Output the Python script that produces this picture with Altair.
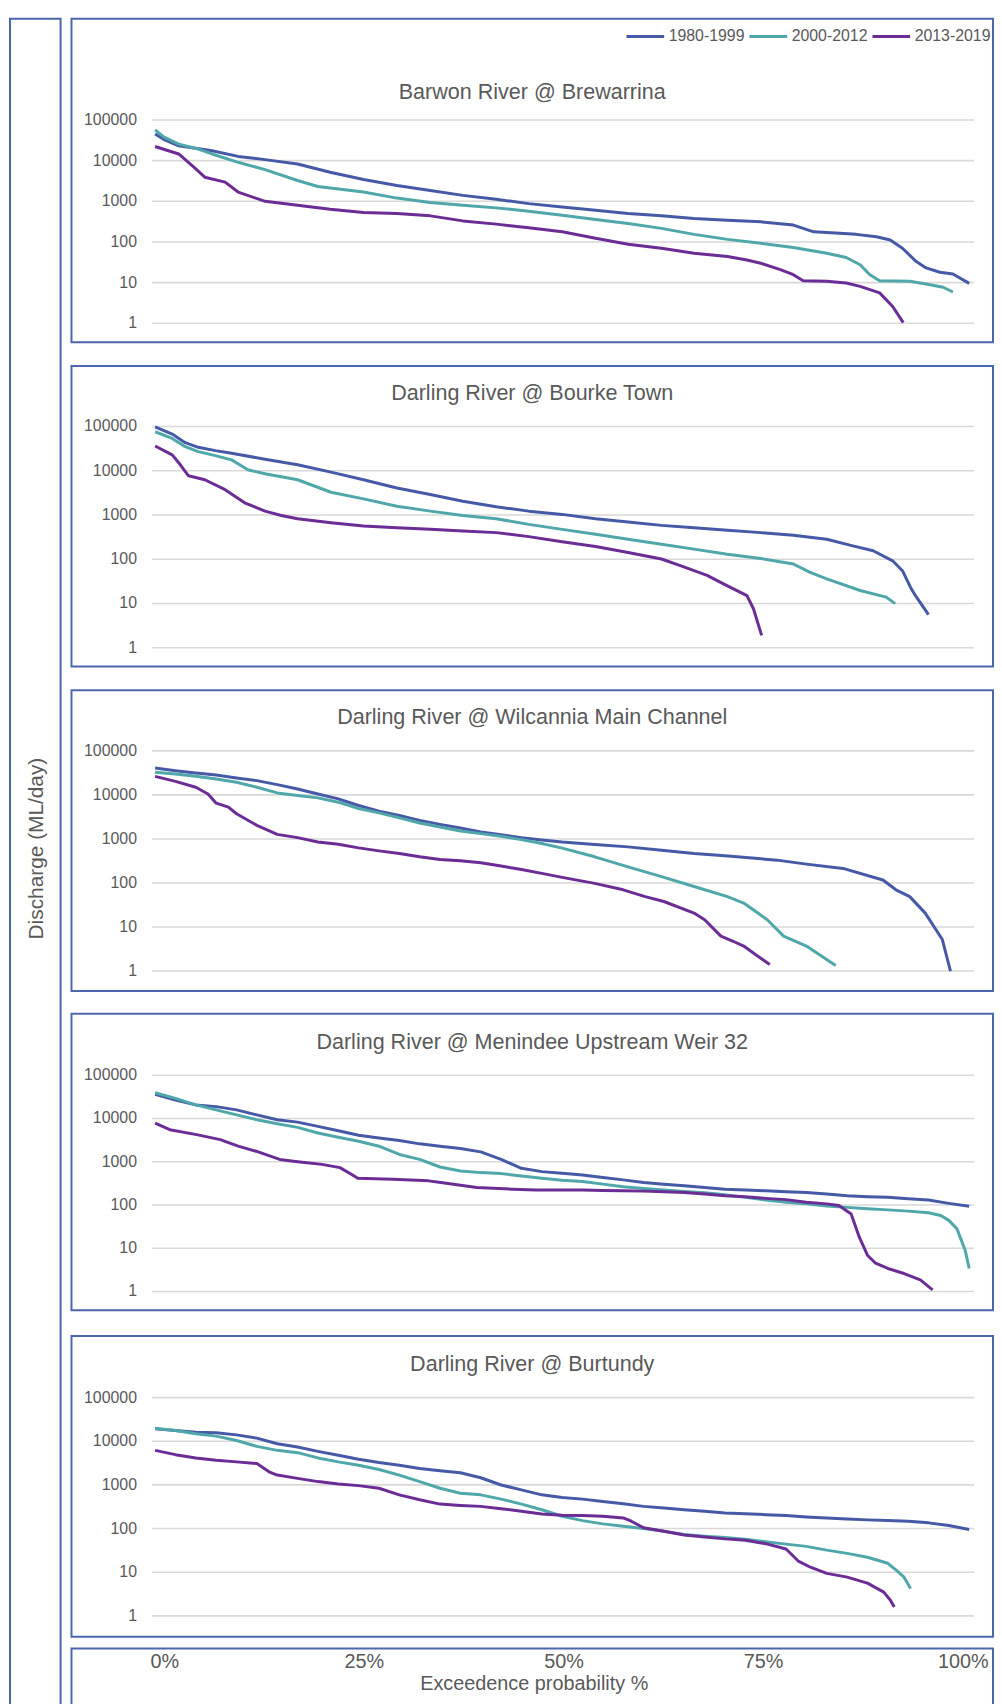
import altair as alt
import pandas as pd

# ---------------- data ----------------
PERIODS = ["1980-1999", "2000-2012", "2013-2019"]
COLORS = ["#4659A7", "#4FA7AA", "#6B2C96"]
TITLES = [
    "Barwon River @ Brewarrina",
    "Darling River @ Bourke Town",
    "Darling River @ Wilcannia Main Channel",
    "Darling River @ Menindee Upstream Weir 32",
    "Darling River @ Burtundy",
]
Y_TICKS = [1, 10, 100, 1000, 10000, 100000]
Y_TICK_LABELS = ["1", "10", "100", "1000", "10000", "100000"]
X_TICKS = [0, 25, 50, 75, 100]
X_TICK_LABELS = ["0%", "25%", "50%", "75%", "100%"]
Y_TITLE = "Discharge (ML/day)"
X_TITLE = "Exceedence probability %"

# Barwon River @ Brewarrina
BRE_A_P = [0, 1.1, 2.9, 7.0, 10.2, 13.5, 17.5, 21.5, 25.6, 29.7, 33.8, 37.8, 41.9, 45.9, 50, 54.1, 58.1, 62.2, 66.2, 70.3, 74.4, 78.4, 80.9, 84.1, 86.1, 88.6, 90.3, 91.8, 93.5, 94.7, 96.4, 98.0, 100]
BRE_A_V = [45000, 33000, 23200, 17500, 12700, 10600, 8300, 5190, 3440, 2450, 1850, 1400, 1120, 877, 726, 603, 500, 439, 378, 344, 313, 260, 178, 163, 154, 135, 112, 70, 33, 23, 18, 16.3, 9.6]
BRE_B_P = [0, 1.1, 2.9, 5.3, 7.0, 10.2, 13.5, 17.5, 20, 25.6, 29.7, 33.8, 37.8, 41.9, 45.9, 50, 54.1, 58.1, 62.2, 66.2, 70.3, 74.4, 78.4, 82.5, 84.9, 86.6, 87.8, 89.0, 92.7, 94.7, 96.8, 98.0]
BRE_B_V = [57000, 38000, 25500, 19300, 14600, 9100, 6000, 3250, 2320, 1690, 1200, 930, 800, 690, 570, 456, 357, 286, 216, 154, 116, 93, 73, 53, 41.5, 27.5, 15.7, 11.2, 10.8, 9.3, 7.7, 5.9]
BRE_C_P = [0, 2.9, 5.0, 6.1, 8.6, 10.2, 13.5, 17.5, 21.5, 25.6, 29.7, 33.8, 37.8, 41.9, 45.9, 50, 54.1, 58.1, 62.2, 66.2, 70.3, 72.7, 74.4, 76.8, 78.4, 79.6, 82.5, 84.9, 86.6, 89.0, 90.6, 91.9]
BRE_C_V = [22300, 14600, 6240, 3920, 2960, 1690, 1000, 800, 638, 530, 500, 439, 330, 275, 223, 178, 123, 88, 70, 53, 44, 36, 30, 21, 15.7, 11.2, 10.8, 9.8, 8.1, 5.6, 2.6, 1.04]

# Darling River @ Bourke Town
BOU_A_P = [0, 2.1, 3.7, 5.3, 7.4, 9.4, 13.5, 17.5, 21.6, 25.6, 29.7, 33.8, 37.8, 41.9, 45.9, 50, 54.1, 58.1, 62.2, 66.2, 70.3, 74.4, 78.4, 82.5, 85.7, 88.2, 90.6, 91.8, 92.8, 93.4, 95.0]
BOU_A_V = [98500, 67300, 43000, 33800, 28500, 24800, 18200, 13600, 9310, 6250, 4070, 2890, 2050, 1530, 1220, 1030, 823, 693, 582, 516, 450, 399, 347, 283, 200, 155, 92, 55, 23, 15, 5.6]
BOU_B_P = [0, 2.1, 3.7, 5.3, 7.4, 9.4, 11.4, 13.5, 17.5, 21.6, 25.6, 29.7, 33.8, 37.8, 41.9, 45.9, 50, 54.1, 58.1, 62.2, 66.2, 70.3, 74.4, 78.4, 80.4, 82.5, 86.6, 89.8, 90.9]
BOU_B_V = [76000, 53800, 35000, 27000, 22000, 17600, 10500, 8530, 6250, 3260, 2310, 1580, 1220, 975, 822, 612, 473, 366, 283, 218, 169, 130, 104, 78, 51, 36, 19.6, 13.9, 9.9]
BOU_C_P = [0, 2.1, 3.1, 4.1, 6.1, 8.6, 11.0, 13.5, 15.5, 17.5, 21.6, 25.6, 29.7, 33.8, 37.8, 41.9, 45.9, 50, 54.1, 58.1, 62.2, 64.6, 67.8, 70.3, 72.7, 73.5, 74.5]
BOU_C_V = [36200, 22800, 13600, 7690, 6250, 3730, 1880, 1220, 975, 822, 668, 563, 516, 473, 434, 399, 324, 247, 194, 142, 101, 71, 43, 25, 15, 7.6, 1.9]

# Darling River @ Wilcannia Main Channel
WIL_A_P = [0, 2.5, 5, 7.5, 10, 12.5, 15, 17.5, 20, 22.5, 25, 27.5, 30, 32.5, 35, 37.5, 40, 42.5, 45, 47.5, 50, 54, 58.1, 62.2, 66.2, 70, 76.4, 80, 84.5, 89.4, 91, 92.7, 94.6, 96.7, 97.7]
WIL_A_V = [40600, 35400, 31300, 28200, 24200, 21100, 17100, 13600, 10500, 8130, 5750, 4280, 3420, 2640, 2140, 1770, 1440, 1250, 1070, 950, 850, 745, 660, 555, 467, 414, 330, 268, 214, 117, 70, 49, 20.7, 5.2, 1]
WIL_B_P = [0, 2.5, 5, 7.5, 10, 12.5, 15, 17.5, 20, 22.5, 25, 27.5, 30, 32.5, 35, 37.5, 40, 42.5, 45, 47.5, 50, 54, 58.1, 62.2, 66.2, 70.3, 72.3, 75.2, 77.2, 80, 83.6]
WIL_B_V = [32500, 29800, 26400, 23000, 19300, 14900, 11100, 9660, 8560, 6830, 4900, 3900, 3000, 2300, 1870, 1510, 1320, 1150, 966, 785, 620, 393, 233, 139, 83, 49, 35, 14.6, 6.2, 3.7, 1.34]
WIL_C_P = [0, 2.5, 5, 6.5, 7.5, 9, 10, 12.5, 15, 17.5, 20, 22.5, 25, 27.5, 30, 32.5, 35, 37.5, 40, 42.5, 45, 47.5, 50, 54, 57.5, 60.2, 62.5, 66.2, 67.5, 69.5, 71, 72.3, 74, 75.5]
WIL_C_V = [26400, 20300, 14900, 10500, 6490, 5270, 3730, 2030, 1270, 1070, 855, 758, 627, 536, 467, 393, 342, 319, 288, 242, 203, 165, 134, 98, 70, 49, 38, 20.7, 14.6, 6.2, 4.75, 3.7, 2.2, 1.41]

# Darling River @ Menindee Upstream Weir 32
MEN_A_P = [0, 2.5, 5, 7.5, 10, 12.5, 15, 17.5, 20, 22.5, 25, 27.5, 30, 32.5, 35, 37.5, 40, 42.5, 45, 47.5, 50, 52.5, 55, 57.5, 60, 62.5, 65, 67.5, 70, 72.5, 75, 77.5, 80, 82.5, 85, 87.5, 90, 92.5, 95, 97.5, 100]
MEN_A_V = [36100, 26700, 20600, 18800, 15800, 12100, 9320, 8240, 6560, 5220, 4080, 3550, 3080, 2590, 2280, 2020, 1690, 1130, 703, 590, 541, 495, 430, 380, 331, 303, 277, 254, 232, 221, 213, 202, 195, 179, 164, 155, 150, 140, 130, 109, 93]
MEN_B_P = [0, 2.5, 5, 7.5, 10, 12.5, 15, 17.5, 20, 22.5, 25, 27.5, 30, 32.5, 35, 37.5, 40, 42.5, 45, 47.5, 50, 52.5, 55, 57.5, 60, 62.5, 65, 67.5, 70, 72.5, 75, 77.5, 80, 82.5, 85, 87.5, 90, 92.5, 95, 96.5, 97.5, 98.5, 99.5, 100]
MEN_B_V = [39400, 29200, 20600, 15800, 12100, 9320, 7540, 6220, 4620, 3670, 2970, 2280, 1470, 1130, 755, 611, 560, 531, 470, 415, 374, 349, 303, 263, 241, 221, 206, 192, 172, 150, 130, 115, 106, 95, 88, 82, 77, 72, 66, 57, 44, 28, 9, 3.4]
MEN_C_P = [0, 1.8, 5.1, 8.0, 10.2, 12.4, 15.3, 17.5, 20.5, 22.7, 24.1, 24.9, 29.2, 33.6, 35.1, 39.5, 43.9, 46.8, 50, 52.5, 55, 57.5, 60, 62.5, 65, 67.5, 70, 72.5, 75, 77.5, 80, 82.5, 84, 85.5, 86.5, 87.5, 88.5, 90, 92, 94, 95.5]
MEN_C_V = [7820, 5500, 4230, 3240, 2290, 1750, 1130, 1000, 869, 729, 513, 415, 394, 361, 331, 254, 232, 221, 221, 221, 217, 213, 209, 202, 195, 179, 164, 155, 142, 133, 115, 106, 97, 62, 18, 6.9, 4.5, 3.4, 2.6, 1.85, 1.09]

# Darling River @ Burtundy
BUR_A_P = [0, 2.5, 5, 7.5, 10, 12.5, 15, 17.5, 20, 22.5, 25, 27.5, 30, 32.5, 35, 37.5, 40, 42.5, 45, 47.5, 50, 52.5, 55, 57.5, 60, 62.5, 65, 67.5, 70, 72.5, 75, 77.5, 80, 82.5, 85, 87.5, 90, 92.5, 95, 97.5, 100]
BUR_A_V = [19200, 17600, 16100, 15600, 14000, 11800, 8770, 7370, 5870, 4770, 3870, 3250, 2830, 2380, 2110, 1900, 1460, 996, 767, 592, 514, 472, 418, 370, 322, 295, 270, 248, 227, 219, 208, 198, 184, 175, 166, 158, 152, 147, 135, 117, 95]
BUR_B_P = [0, 2.5, 5, 7.5, 10, 12.5, 15, 17.5, 20, 22.5, 25, 27.5, 30, 32.5, 35, 37.5, 40, 42.5, 45, 47.5, 50, 52.5, 55, 57.5, 60, 62.5, 65, 67.5, 70, 72.5, 75, 77.5, 80, 82.5, 85, 87.5, 90, 91.1, 92.0, 92.8]
BUR_B_V = [19800, 17600, 14800, 13100, 10400, 7620, 6190, 5480, 4150, 3370, 2830, 2260, 1680, 1190, 838, 646, 592, 472, 363, 270, 191, 152, 128, 113, 100, 87, 73, 67, 62, 57, 50, 44, 39, 32, 27, 22, 16, 10.8, 7.7, 4.2]
BUR_C_P = [0, 2.5, 5, 7.5, 10, 12.5, 14, 15, 17.5, 20, 22.5, 25, 27.5, 30, 32.5, 35, 37.5, 40, 42.5, 45, 47.5, 50, 52.5, 55, 57.5, 58.5, 60, 62.5, 65, 67.5, 70, 72.5, 75, 77.5, 79, 80.5, 82.5, 85, 87.5, 89.5, 90.3, 90.8]
BUR_C_V = [6190, 4930, 4150, 3670, 3370, 3090, 2000, 1680, 1410, 1190, 1050, 962, 838, 592, 456, 363, 339, 322, 285, 248, 216, 201, 198, 191, 175, 147, 104, 87, 71, 64, 58, 54, 45, 34, 18, 13, 9.4, 7.7, 5.6, 3.5, 2.3, 1.6]

SERIES = [
    [(BRE_A_P, BRE_A_V), (BRE_B_P, BRE_B_V), (BRE_C_P, BRE_C_V)],
    [(BOU_A_P, BOU_A_V), (BOU_B_P, BOU_B_V), (BOU_C_P, BOU_C_V)],
    [(WIL_A_P, WIL_A_V), (WIL_B_P, WIL_B_V), (WIL_C_P, WIL_C_V)],
    [(MEN_A_P, MEN_A_V), (MEN_B_P, MEN_B_V), (MEN_C_P, MEN_C_V)],
    [(BUR_A_P, BUR_A_V), (BUR_B_P, BUR_B_V), (BUR_C_P, BUR_C_V)],
]

# ---------------- layout (pixels) ----------------
W, H = 994, 1696
FONT = "Liberation Sans"
TXT = "#595959"
BOX = "#4A66AC"
GRIDC = "#D9D9D9"
BOX_X0, BOX_X1 = 64, 993
PANEL_BOX = [(4, 330), (354, 657), (681, 984), (1007, 1306), (1332, 1635)]
GRID_Y = [(311, 106), (638, 415), (964, 742), (1287, 1069), (1614, 1394)]
TITLE_Y = [85, 388, 714.7, 1042.7, 1367]
TITLE_X = 528.5
GRID_X0, GRID_X1 = 145, 974
TICK_X = 130
X_RANGE = [148.3, 969]
XLAB_RANGE = [158, 963]

color_scale = alt.Scale(domain=PERIODS, range=COLORS)
legend = alt.Legend(
    orient="none", legendX=622, legendY=1, direction="horizontal", title=None,
    symbolType="stroke", symbolSize=1444, symbolStrokeWidth=3,
    labelFontSize=16, labelFont=FONT, labelColor=TXT, labelOffset=3,
    columnPadding=-2, padding=0,
)

one = pd.DataFrame({"a": [0]})


def box(x0, x1, y0, y1):
    return alt.Chart(one).mark_rect(
        fillOpacity=0, stroke=BOX, strokeWidth=2
    ).encode(x=alt.value(x0), x2=alt.value(x1), y=alt.value(y0), y2=alt.value(y1))


def panel(i):
    rows = []
    for k, (ps, vs) in enumerate(SERIES[i]):
        for p, v in zip(ps, vs):
            rows.append({"p": p, "v": v, "period": PERIODS[k]})
    df = pd.DataFrame(rows)
    ysc = alt.Scale(type="log", domain=[1, 100000], range=list(GRID_Y[i]), nice=False)
    xsc = alt.Scale(domain=[0, 100], range=X_RANGE, nice=False, zero=False)
    tdf = pd.DataFrame({"t": Y_TICKS, "lab": Y_TICK_LABELS})
    grid = alt.Chart(tdf).mark_rule(color=GRIDC, strokeWidth=1.6).encode(
        y=alt.Y("t:Q", scale=ysc, axis=None),
        x=alt.value(GRID_X0), x2=alt.value(GRID_X1),
    )
    ticks = alt.Chart(tdf).mark_text(
        align="right", baseline="middle", fontSize=16, font=FONT, color=TXT
    ).encode(y=alt.Y("t:Q", scale=ysc, axis=None), x=alt.value(TICK_X), text="lab:N")
    title = alt.Chart(pd.DataFrame({"title": [TITLES[i]]})).mark_text(
        align="center", baseline="alphabetic", fontSize=21.7, font=FONT, color=TXT
    ).encode(x=alt.value(TITLE_X), y=alt.value(TITLE_Y[i]), text="title:N")
    lines = alt.Chart(df).mark_line(strokeWidth=3, strokeJoin="round").encode(
        x=alt.X("p:Q", scale=xsc, axis=None),
        y=alt.Y("v:Q", scale=ysc, axis=None),
        color=alt.Color("period:N", scale=color_scale, legend=legend),
    )
    b = box(BOX_X0, BOX_X1, PANEL_BOX[i][0], PANEL_BOX[i][1])
    return alt.layer(grid, ticks, title, b, lines)


left_box = box(2, 53, 4, 1730)
x_box = box(BOX_X0, BOX_X1, 1647, 1730)
y_title = alt.Chart(pd.DataFrame({"t": [Y_TITLE]})).mark_text(
    angle=270, align="center", baseline="middle", fontSize=21, font=FONT, color=TXT
).encode(x=alt.value(29), y=alt.value(840.5), text="t:N")
x_labels = alt.Chart(pd.DataFrame({"x": X_TICKS, "lab": X_TICK_LABELS})).mark_text(
    align="center", baseline="middle", fontSize=20, font=FONT, color=TXT
).encode(
    x=alt.X("x:Q", scale=alt.Scale(domain=[0, 100], range=XLAB_RANGE, nice=False, zero=False), axis=None),
    y=alt.value(1661), text="lab:N",
)
x_title = alt.Chart(pd.DataFrame({"t": [X_TITLE]})).mark_text(
    align="center", baseline="alphabetic", fontSize=20, font=FONT, color=TXT
).encode(x=alt.value(530.5), y=alt.value(1689), text="t:N")

chart = alt.layer(
    left_box, y_title, *[panel(i) for i in range(5)], x_box, x_labels, x_title
).resolve_scale(x="independent", y="independent").properties(
    width=W, height=H, padding=0, autosize=alt.AutoSizeParams(type="none"),
    background="white",
).configure_view(stroke=None)

chart.save("out.html", embed_options={"renderer": "svg", "actions": False})
